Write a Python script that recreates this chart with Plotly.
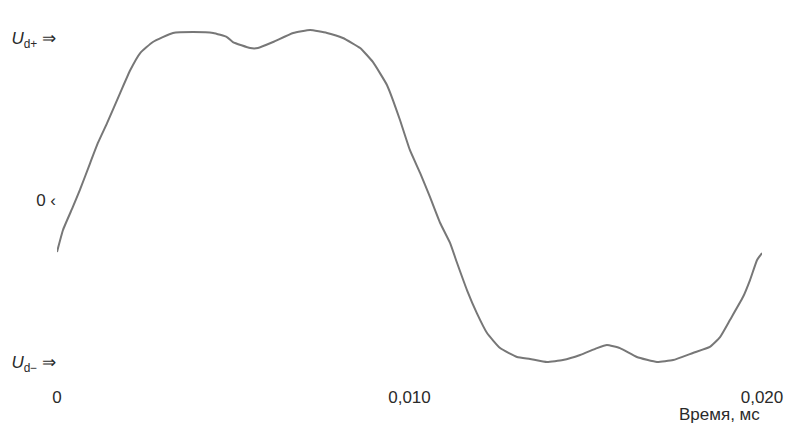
import plotly.graph_objects as go

time_s = [0, 0.00017, 0.00045, 0.00065, 0.00094, 0.00116, 0.00142, 0.00179, 0.00208, 0.00236,
          0.00272, 0.00329, 0.00386, 0.00443, 0.00482, 0.00499, 0.00548, 0.00570, 0.00613, 0.00670,
          0.00718, 0.00766, 0.00811, 0.00860, 0.00896, 0.00936, 0.00953, 0.00973, 0.01001, 0.01030,
          0.01058, 0.01087, 0.01115, 0.01135, 0.01163, 0.01191, 0.01220, 0.01257, 0.01305, 0.01342,
          0.01390, 0.01435, 0.01484, 0.01532, 0.01560, 0.01597, 0.01645, 0.01702, 0.01748, 0.01804,
          0.01852, 0.01881, 0.01909, 0.01946, 0.01966, 0.01986, 0.02000]
voltage = [-0.321, -0.185, -0.043, 0.062, 0.228, 0.352, 0.475, 0.660, 0.802, 0.907,
           0.975, 1.031, 1.037, 1.031, 1.006, 0.975, 0.938, 0.938, 0.975, 1.031,
           1.049, 1.031, 1.000, 0.938, 0.852, 0.710, 0.617, 0.494, 0.309, 0.167,
           0.019, -0.142, -0.265, -0.389, -0.556, -0.698, -0.821, -0.914, -0.969, -0.981,
           -1.000, -0.988, -0.957, -0.914, -0.895, -0.914, -0.969, -1.000, -0.988, -0.944,
           -0.907, -0.846, -0.741, -0.599, -0.494, -0.370, -0.327]

x_tickvals = [0, 0.010, 0.020]
x_ticktext = ["0", "0,010", "0,020"]
y_tickvals = [1, 0, -1]
y_ticktext = ["<i>U</i><sub>d+</sub> ⇒", "0 ‹", "<i>U</i><sub>d−</sub> ⇒"]
x_title = "Время, мс"

fig = go.Figure()
fig.add_trace(go.Scatter(x=time_s, y=voltage, mode="lines",
                         line=dict(color="#777777", width=2, shape="spline", smoothing=0.4),
                         showlegend=False, hoverinfo="skip"))

fig.update_layout(
    width=787, height=425,
    margin=dict(l=57, r=25, t=20, b=45, autoexpand=False),
    paper_bgcolor="white", plot_bgcolor="white",
    font=dict(family="Liberation Sans, Arial, sans-serif", size=17, color="#2a2a2a"),
    xaxis=dict(range=[0, 0.020], tickvals=x_tickvals, ticktext=x_ticktext,
               showgrid=False, zeroline=False, showline=False, ticks="",
               ticklabelstandoff=5, automargin=False,
               tickfont=dict(size=17, color="#2a2a2a")),
    yaxis=dict(range=[-1.111, 1.111], tickvals=y_tickvals, ticktext=y_ticktext,
               showgrid=False, zeroline=False, showline=False, ticks="",
               ticklabelstandoff=0, automargin=False,
               tickfont=dict(size=17, color="#2a2a2a")),
    annotations=[dict(text=x_title, xref="paper", yref="paper", x=1.0, y=-0.097,
                      xanchor="right", yanchor="middle", showarrow=False,
                      font=dict(size=17, color="#2a2a2a"))],
)

fig.write_html(
    "out.html",
    config={"displayModeBar": False, "responsive": False},
    post_script="document.documentElement.style.overflow='hidden';"
                "document.body.style.margin='0';document.body.style.overflow='hidden';"
                "Plotly.relayout('{plot_id}', {width: 787, height: 425});",
)
